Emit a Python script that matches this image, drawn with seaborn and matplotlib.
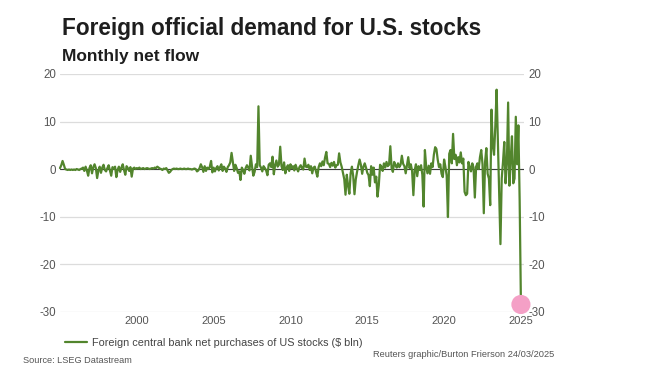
import numpy as np
import pandas as pd
import matplotlib.pyplot as plt
from matplotlib import font_manager
import seaborn as sns

# ── DATA (monthly, $ bln) ────────────────────────────────────────────────────

start_year = 1995
flows_1995_1999 = [
    0.2, 0.8, 1.7, 0.9, 0.0, -0.1, -0.2, -0.1, -0.2, -0.1, -0.2, -0.1,
    -0.2, 0.0, -0.1, -0.2, 0.0, 0.1, 0.3, -0.4, 0.5, -0.3, -1.4, 0.2,
    0.8, -0.9, 0.4, 1.0, 0.2, -1.9, -0.3, 0.5, -0.8, 0.3, 0.9, -0.2,
    -0.5, 0.2, 0.8, -0.3, -1.4, 0.4, 0.1, 0.5, -1.7, -0.2, 0.5, -0.6,
    0.3, 1.0, -0.2, -1.2, 0.6, 0.2, -0.4, 0.4, -1.6, 0.1, 0.3, 0.0,
]
flows_2000_2004 = [
    0.2, 0.1, 0.3, 0.0, 0.1, 0.2, 0.0, 0.1, 0.2, 0.1, 0.0, 0.1,
    0.2, 0.1, 0.3, 0.2, 0.5, 0.3, 0.1, 0.0, -0.2, 0.1, 0.0, 0.2,
    -0.3, -0.8, -0.6, -0.2, 0.0, 0.1, 0.0, 0.1, 0.0, 0.0, 0.1, 0.0,
    0.0, 0.1, 0.0, 0.0, 0.1, 0.0, 0.0, -0.1, 0.0, 0.1, 0.0, -0.5,
    -0.3, 0.2, 1.0, 0.4, -0.6, 0.6, -0.4, 0.3, 0.0, 0.5, 1.7, -0.7,
]
flows_2005_2009 = [
    0.3, -0.5, 0.2, 0.6, -0.3, 0.4, 1.0, -0.4, 0.5, 0.1, -0.6, 0.4,
    0.8, 1.4, 3.4, 1.5, -0.4, 0.9, 0.2, -0.8, -0.5, -2.3, 0.3, -0.2,
    -1.0, 0.2, 0.8, 0.3, -0.3, 2.8, 0.5, -1.4, -0.6, 1.0, 0.4, 13.2,
    0.8, 0.3, -0.5, 0.6, 0.2, -0.3, -1.3, 0.9, 1.2, 0.4, 2.6, -1.1,
    0.8, 1.8, 0.5, 0.9, 4.7, 0.6, -0.2, 1.4, -0.9, 0.3, 0.8, -0.4,
]
flows_2010_2014 = [
    1.0, 0.2, 0.6, -0.3, 0.9, 0.1, -0.5, 0.4, 0.8, 0.2, -0.1, 2.2,
    0.5, 0.4, 0.9, -0.2, 0.6, -0.9, 0.3, 0.5, -0.6, -1.6, 0.4, 1.2,
    0.6, 1.6, 0.8, 2.4, 3.6, 1.2, 1.1, 0.4, 1.3, 0.7, 1.5, 0.3,
    0.8, 0.9, 3.3, 1.4, 0.5, -0.8, -2.1, -5.4, -1.2, -3.5, -5.2, -0.9,
    0.5, -1.5, -5.3, -2.2, -0.6, 0.8, 2.0, 0.9, -1.0, 0.5, 1.2, 0.3,
]
flows_2015_2019 = [
    -0.8, -1.3, -3.6, 0.6, -1.2, 0.3, -2.8, -1.6, -5.8, -3.4, 0.9, 0.5,
    -0.4, 1.2, 0.3, 1.5, 0.6, 0.9, 4.8, 0.2, -0.6, 1.5, 0.8, 0.3,
    1.2, 0.4, 0.9, 2.8, 1.1, 0.6, -0.9, 0.8, 2.5, 0.2, 1.0, -0.4,
    -5.5, -0.3, 1.0, -1.5, 0.6, -0.2, 0.8, -1.2, -7.9, 4.0, 0.5, -0.9,
    0.7, -1.0, 1.2, 0.4, 3.0, 4.6, 4.2, 2.0, 0.4, 1.0, -1.0, -1.7,
]
flows_2020_2025 = [
    2.0, 0.5, -1.4, -10.1, 3.2, 4.0, 1.2, 7.4, 2.1, 3.0, 0.8, 2.5,
    1.4, 3.5, 1.2, 2.2, -4.8, -5.5, -5.2, 1.5, 0.4, -0.5, 1.2, 0.3,
    -6.0, 0.5, 1.2, 0.0, 2.5, 4.0, 1.0, -9.3, 1.5, 4.4, -1.0, -2.0,
    -7.6, 12.5, 5.0, 3.0, 9.0, 16.7, 6.0, -5.0, -15.8, -2.0, 1.5, 5.7,
    -3.0, 1.0, 14.0, -3.5, 2.0, 6.9, -3.0, -2.0, 11.0, 1.0, 9.2, -6.5,
    -28.5,
]

y_ticks = [20, 10, 0, -10, -20, -30]
x_ticks = [2000, 2005, 2010, 2015, 2020, 2025]

SERIES_LABEL = "Foreign central bank net purchases of US stocks ($ bln)"
GREEN = "#52852d"
PINK = "#f4a0c6"
TICK_GREY = "#555555"

flows = (flows_1995_1999 + flows_2000_2004 + flows_2005_2009
         + flows_2010_2014 + flows_2015_2019 + flows_2020_2025)
df = pd.DataFrame({"flow": flows})
df["year"] = start_year + np.arange(len(df)) / 12

# ── STYLE ─────────────────────────────────────────────────────────────────────

sns.set_theme(style="white")
names = {f.name for f in font_manager.fontManager.ttflist}
NARROW = "Liberation Sans Narrow" if "Liberation Sans Narrow" in names else "Liberation Sans"
plt.rcParams["font.family"] = ["Liberation Sans", "DejaVu Sans"]

# ── CHART ─────────────────────────────────────────────────────────────────────

fig = plt.figure(figsize=(6.5, 3.73), dpi=100)
ax = fig.add_axes([60 / 650, 1 - 311.6 / 373, 464 / 650, 237.6 / 373])

ax.axhline(0, color="#3c3c3c", lw=0.8, zorder=2)
sns.lineplot(data=df, x="year", y="flow", ax=ax, color=GREEN, lw=1.6,
             label=SERIES_LABEL, zorder=3, clip_on=False)
sns.scatterplot(data=df.tail(1), x="year", y="flow", ax=ax, color=PINK,
                s=190, edgecolor="none", zorder=5, clip_on=False, legend=False)

ax.set_xlim(1995.0, 2025.2)
ax.set_ylim(-30, 20)
ax.set_xticks(x_ticks)
ax.set_yticks(y_ticks)
ax.set_xticklabels([str(t) for t in x_ticks], fontfamily=NARROW)
ax.set_yticklabels([str(t) for t in y_ticks], fontfamily=NARROW)
ax.grid(axis="y", color="#dcdcdc", lw=0.9, zorder=0)
ax.grid(axis="x", visible=False)
for s in ax.spines.values():
    s.set_visible(False)
ax.tick_params(axis="y", length=0, pad=3, labelsize=8.3, labelcolor=TICK_GREY,
               labelright=True)
ax.tick_params(axis="x", length=0, pad=3.2, labelsize=8, labelcolor=TICK_GREY)
ax.set_xlabel("")
ax.set_ylabel("")

ax.legend(loc="center left", bbox_to_anchor=(65 / 650, 1 - 343 / 373),
          bbox_transform=fig.transFigure, frameon=False, borderpad=0,
          borderaxespad=0, handlelength=2.0, handletextpad=0.5,
          prop={"family": NARROW, "size": 7.8}, labelcolor="#444444")

fig.text(62 / 650, 1 - 35 / 373, "Foreign official demand for U.S. stocks",
         fontsize=16.3, fontweight="bold", color="#1e1e1e", va="baseline")
fig.text(62 / 650, 1 - 61 / 373, "Monthly net flow",
         fontsize=12.5, fontweight="bold", color="#1e1e1e", va="baseline")
fig.text(23 / 650, 1 - 363 / 373, "Source: LSEG Datastream",
         fontsize=6.6, color="#555555", va="baseline", fontfamily=NARROW)
fig.text(373 / 650, 1 - 357 / 373, "Reuters graphic/Burton Frierson 24/03/2025",
         fontsize=6.7, color="#555555", va="baseline", fontfamily=NARROW)

fig.savefig("out.png", dpi=100, facecolor="white")
plt.close(fig)
